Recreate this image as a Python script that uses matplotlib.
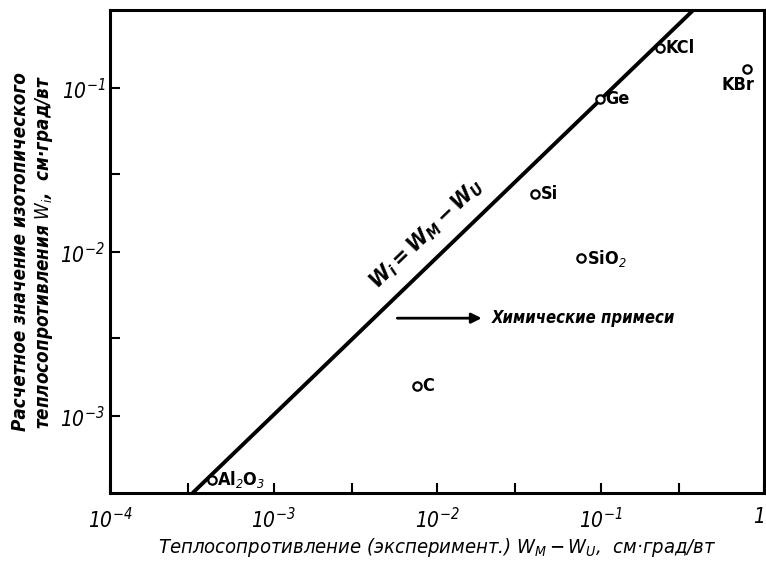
import numpy as np
import matplotlib
matplotlib.use('Agg')
import matplotlib.pyplot as plt

# data
names = ['Al$_2$O$_3$', 'C', 'Si', 'SiO$_2$', 'Ge', 'KCl', 'KBr']
x_exp = [4.2e-4, 7.5e-3, 4.0e-2, 7.6e-2, 9.9e-2, 0.23, 0.79]
y_calc = [4.1e-4, 1.52e-3, 2.26e-2, 9.2e-3, 8.6e-2, 0.175, 0.131]
line_x = [3.2e-4, 0.37]
line_y = [3.4e-4, 0.30]
x_ticks = [1e-4, 1e-3, 1e-2, 1e-1, 1]
x_ticklabels = ['$10^{-4}$', '$10^{-3}$', '$10^{-2}$', '$10^{-1}$', '$1$']
y_ticks = [1e-3, 1e-2, 1e-1]
y_ticklabels = ['$10^{-3}$', '$10^{-2}$', '$10^{-1}$']
minor_x = [3e-4, 3e-3, 3e-2, 3e-1]
minor_y = [3e-3, 3e-2]

plt.rcParams['font.family'] = ['DejaVu Sans']
plt.rcParams['font.stretch'] = 'condensed'
plt.rcParams['font.style'] = 'italic'
plt.rcParams['mathtext.default'] = 'it'

fig = plt.figure(figsize=(7.66, 5.61), dpi=100)
ax = fig.add_axes([110/766, (561-493)/561, (764-110)/766, (493-10)/561])
ax.set_xscale('log')
ax.set_yscale('log')
ax.set_xlim(1e-4, 1)
ax.set_ylim(3.4e-4, 0.30)

ax.plot(line_x, line_y, '-k', lw=2.8, solid_capstyle='butt')
ax.plot(x_exp, y_calc, 'o', mfc='white', mec='k', ms=6, mew=1.6, zorder=3)

for i in range(len(names)):
    if names[i] == 'KBr':
        ax.annotate(names[i], (x_exp[i], y_calc[i]), xytext=(5, -5), textcoords='offset points',
                    ha='right', va='top', fontsize=13, style='normal', fontweight='semibold')
    else:
        ax.annotate(names[i], (x_exp[i], y_calc[i]), xytext=(4, 0), textcoords='offset points',
                    ha='left', va='center', fontsize=13, style='normal', fontweight='semibold')

# W_i = W_M - W_U along the line
ax.text(8.6e-3, 1.3e-2, r'$\mathbf{W_i = W_M - W_U}$', rotation=43.8, rotation_mode='anchor',
        ha='center', va='center', fontsize=16)

# arrow: chemical impurities
ax.annotate('', xy=(1.95e-2, 3.96e-3), xytext=(5.5e-3, 3.96e-3),
            arrowprops=dict(arrowstyle='-|>', color='k', lw=2, mutation_scale=15))
ax.text(2.15e-2, 3.96e-3, 'Химические примеси', ha='left', va='center', fontsize=12, fontweight='bold')

ax.set_xticks(x_ticks, x_ticklabels)
ax.set_yticks(y_ticks, y_ticklabels)
ax.set_xticks(minor_x, minor=True)
ax.set_yticks(minor_y, minor=True)
ax.xaxis.set_minor_formatter(plt.NullFormatter())
ax.yaxis.set_minor_formatter(plt.NullFormatter())
ax.get_xticklabels()[-1].set_ha('right')
ax.tick_params(which='both', direction='in', length=7, width=1.5, labelsize=15, top=False, right=False)
ax.tick_params(axis='x', pad=10)
for s in ax.spines.values():
    s.set_linewidth(2.2)

ax.set_xlabel('Теплосопротивление (эксперимент.) $W_M - W_U$,  см·град/вт', fontsize=14.5, labelpad=3)
ax.set_ylabel('Расчетное значение изотопического\nтеплосопротивления $W_i$,  см·град/вт',
              fontsize=13.5, labelpad=4, fontweight='bold')

plt.savefig('out.png', dpi=100)
